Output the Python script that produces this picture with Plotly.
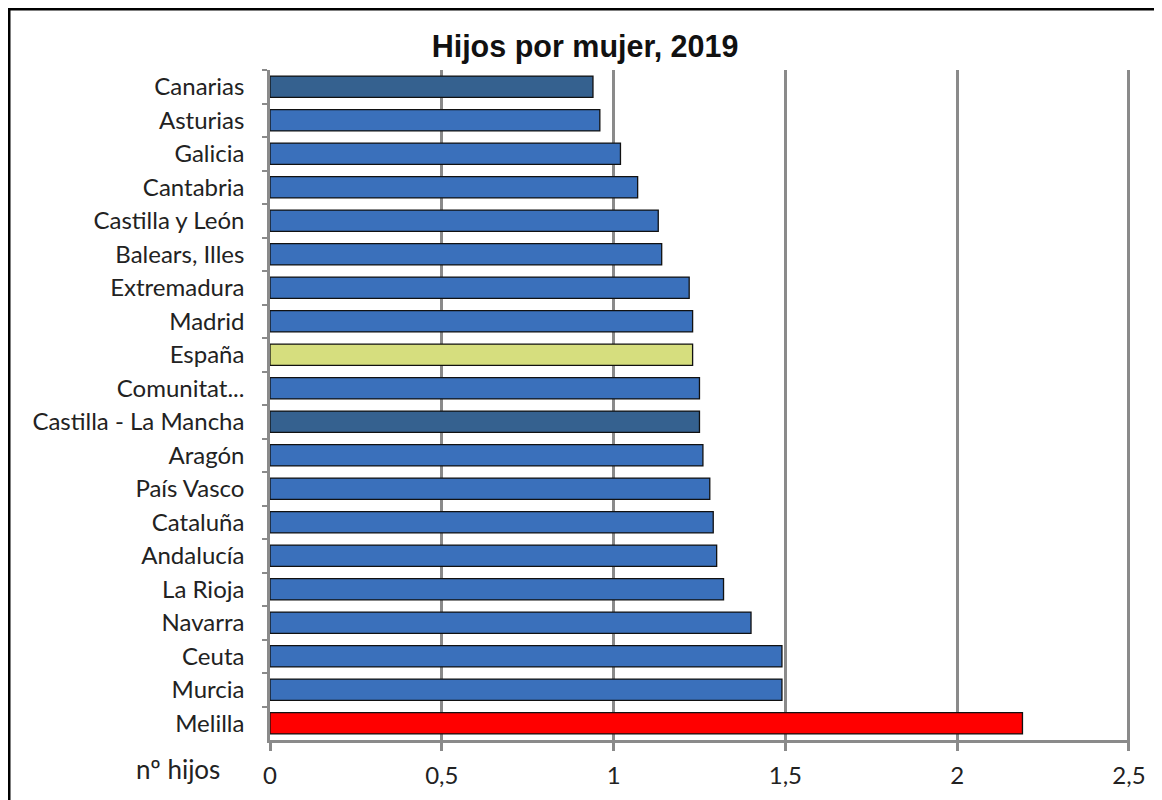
import plotly.graph_objects as go

regions = [
    "Canarias", "Asturias", "Galicia", "Cantabria", "Castilla y León",
    "Balears, Illes", "Extremadura", "Madrid", "España", "Comunitat...",
    "Castilla - La Mancha", "Aragón", "País Vasco", "Cataluña", "Andalucía",
    "La Rioja", "Navarra", "Ceuta", "Murcia", "Melilla",
]
hijos = [
    0.94, 0.96, 1.02, 1.07, 1.13,
    1.14, 1.22, 1.23, 1.23, 1.25,
    1.25, 1.26, 1.28, 1.29, 1.30,
    1.32, 1.40, 1.49, 1.49, 2.19,
]
x_ticks = [0, 0.5, 1, 1.5, 2, 2.5]

BLUE = "#3a70bb"
DARK = "#35618f"
colors = []
for r in regions:
    if r == "España":
        colors.append("#d6de7e")
    elif r == "Melilla":
        colors.append("#ff0000")
    elif r in ("Canarias", "Castilla - La Mancha"):
        colors.append(DARK)
    else:
        colors.append(BLUE)

FONT = "Lato"
GRID = "#8a8a8a"
L, R, T, B = 262, 40, 62, 68
PW, PH = 1162 - L - R, 800 - T - B

fig = go.Figure(go.Bar(
    x=hijos, y=regions, orientation="h",
    marker=dict(color=colors, line=dict(color="#111111", width=1.3)),
    width=0.64,
))

fig.update_layout(
    width=1162, height=800,
    margin=dict(l=L, r=R, t=T, b=B),
    paper_bgcolor="white", plot_bgcolor="white",
    separators=", ",
    showlegend=False,
    title=dict(text="<b>Hijos por mujer, 2019</b>", x=0.4966, xanchor="center",
               y=0.9525, yanchor="middle",
               font=dict(family="Liberation Sans", size=30.5, color="#111111")),
    font=dict(family=FONT, size=24, color="#222222"),
)
fig.update_xaxes(
    range=[0, 2.503], tickvals=x_ticks, tickformat=".1~f",
    showgrid=True, gridcolor=GRID, gridwidth=2.5,
    showline=True, linecolor=GRID, linewidth=2.5,
    ticks="outside", ticklen=8, tickwidth=2.5, tickcolor=GRID,
    ticklabelstandoff=4, zeroline=False,
)
fig.update_yaxes(
    autorange="reversed", type="category",
    showline=True, linecolor=GRID, linewidth=2.5,
    ticks="outside", ticklen=5, tickwidth=2, tickcolor=GRID,
    tickson="boundaries", ticklabelstandoff=18, showgrid=False,
)

fig.add_annotation(text="nº hijos", xref="paper", yref="paper",
                   x=(214 - L) / PW, y=-29 / PH, xanchor="right", yanchor="middle",
                   showarrow=False, font=dict(family=FONT, size=26, color="#222222"))

# outer frame (cut off at the right and bottom edges like the source image)
fig.add_shape(type="rect", xref="paper", yref="paper",
              x0=-L / PW, x1=1.2, y0=-0.3, y1=1 + T / PH,
              line=dict(color="black", width=5), layer="above")

fig.write_html("out.html")
